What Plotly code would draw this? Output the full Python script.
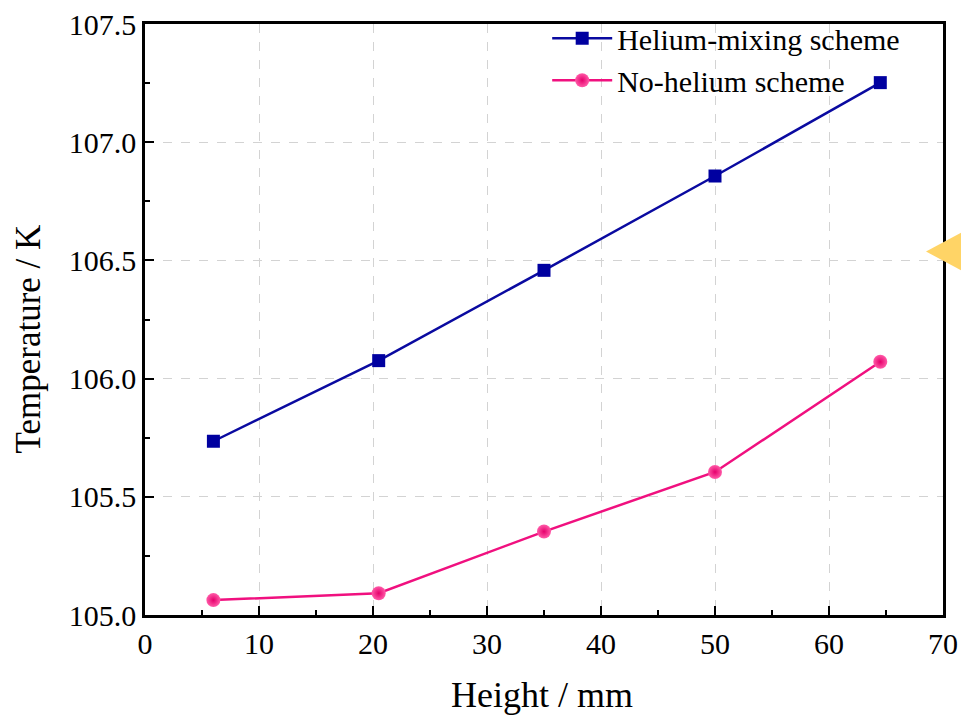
import plotly.graph_objects as go

height_mm = [6, 20.5, 35, 50, 64.5]
helium_mixing = [105.735, 106.076, 106.458, 106.857, 107.252]
no_helium = [105.063, 105.092, 105.353, 105.605, 106.071]

x_ticks = [0, 10, 20, 30, 40, 50, 60, 70]
y_ticks = [105.0, 105.5, 106.0, 106.5, 107.0, 107.5]

FONT = "Liberation Serif"

fig = go.Figure()
fig.add_trace(go.Scatter(
    x=height_mm, y=helium_mixing, mode="lines+markers", name="Helium-mixing scheme",
    line=dict(color="#0a0aa0", width=2.5),
    marker=dict(symbol="square", size=13, color="#0000a0", line=dict(width=0)),
))
fig.add_trace(go.Scatter(
    x=height_mm, y=no_helium, mode="lines+markers", name="No-helium scheme",
    line=dict(color="#f0107f", width=2.5),
    marker=dict(symbol="circle", size=14, color="#ff5aa8",
                gradient=dict(type="radial", color="#e6006c"), line=dict(width=0)),
))

fig.update_layout(
    width=961, height=715,
    margin=dict(l=145, r=18, t=20, b=100),
    paper_bgcolor="white", plot_bgcolor="white",
    font=dict(family=FONT, size=29, color="black"),
    showlegend=True,
    legend=dict(x=0.504, y=1.02, xanchor="left", yanchor="top",
                bgcolor="rgba(0,0,0,0)", font=dict(size=30, family=FONT),
                tracegroupgap=0, itemwidth=60),
    xaxis=dict(
        range=[0, 70], tickvals=x_ticks, ticktext=[str(v) for v in x_ticks],
        ticks="inside", ticklen=9, tickwidth=2, tickcolor="black",
        minor=dict(ticks="inside", ticklen=5, tickwidth=2, tickcolor="black", dtick=5, showgrid=False),
        showline=True, linecolor="black", linewidth=2.5, mirror=True,
        showgrid=True, gridcolor="#d3d3d3", griddash="dash", gridwidth=1,
        zeroline=False, automargin=False,
        tickfont=dict(size=30, family=FONT),
    ),
    yaxis=dict(
        range=[105.0, 107.5], tickvals=y_ticks, ticktext=[f"{v:.1f}" for v in y_ticks],
        ticks="inside", ticklen=9, tickwidth=2, tickcolor="black",
        minor=dict(ticks="inside", ticklen=5, tickwidth=2, tickcolor="black", dtick=0.25, showgrid=False),
        showline=True, linecolor="black", linewidth=2.5, mirror=True,
        showgrid=True, gridcolor="#d3d3d3", griddash="dash", gridwidth=1,
        zeroline=False, automargin=False,
        tickfont=dict(size=30, family=FONT),
    ),
    annotations=[
        dict(text="Height / mm", xref="paper", yref="paper", x=0.498, y=-0.135,
             xanchor="center", yanchor="middle", showarrow=False,
             font=dict(size=36, family=FONT)),
        dict(text="Temperature / K", xref="paper", yref="paper", x=-0.146, y=0.467,
             xanchor="center", yanchor="middle", showarrow=False, textangle=-90,
             font=dict(size=35, family=FONT)),
    ],
    shapes=[dict(
        type="path", xref="paper", yref="paper",
        path="M 0.9787 0.615 L 1.03 0.652 L 1.03 0.578 Z",
        fillcolor="#ffd466", line=dict(width=0), layer="above",
    )],
)

fig.write_html("out.html")
